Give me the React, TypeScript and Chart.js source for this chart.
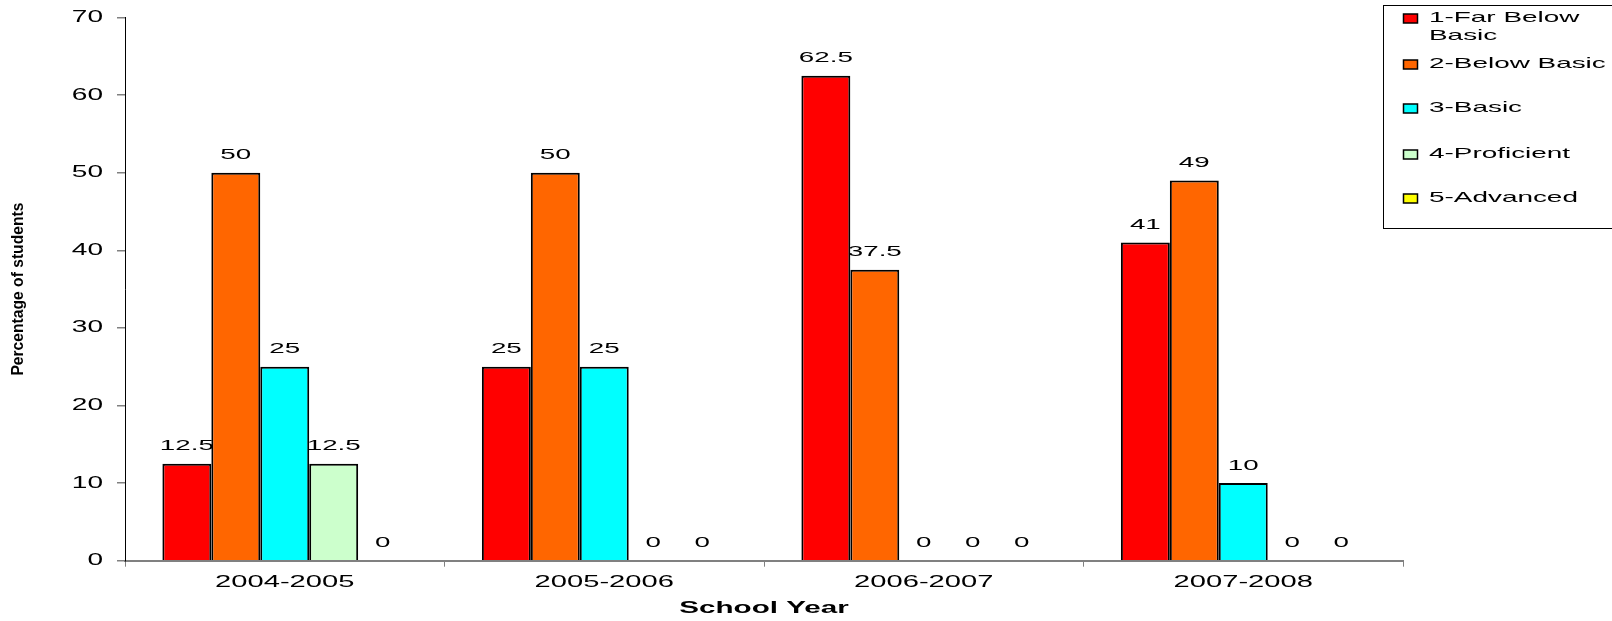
import React, { useEffect, useRef } from "react";
import { Chart, registerables } from "chart.js";

Chart.register(...registerables);

const categories = ["2004-2005", "2005-2006", "2006-2007", "2007-2008"];
const seriesNames = ["1-Far Below Basic", "2-Below Basic", "3-Basic", "4-Proficient", "5-Advanced"];
const legendLines = [["1-Far Below", "Basic"], ["2-Below Basic"], ["3-Basic"], ["4-Proficient"], ["5-Advanced"]];
const farBelowBasic = [12.5, 25, 62.5, 41];
const belowBasic = [50, 50, 37.5, 49];
const basic = [25, 25, 0, 10];
const proficient = [12.5, 0, 0, 0];
const advanced = [0, 0, 0, 0];
const seriesColors = ["#FF0000", "#FF6600", "#00FFFF", "#CCFFCC", "#FFFF00"];
const yTicks = [0, 10, 20, 30, 40, 50, 60, 70];
const xTitle = "School Year";
const yTitle = "Percentage of students";

const FONT = '"Liberation Sans", Arial, sans-serif';

function drawText(ctx: CanvasRenderingContext2D, text: string, x: number, y: number, font: string, align: string, sx: number, color = "#000") {
  ctx.save();
  ctx.font = font;
  ctx.fillStyle = color;
  ctx.textBaseline = "middle";
  ctx.textAlign = "left";
  const w = ctx.measureText(text).width * sx;
  const left = align === "center" ? x - w / 2 : align === "right" ? x - w : x;
  ctx.translate(left, y);
  ctx.scale(sx, 1);
  ctx.fillText(text, 0, 0);
  ctx.restore();
}

const textPlugin = {
  id: "customText",
  afterDraw(chart: any) {
    const ctx = chart.ctx as CanvasRenderingContext2D;
    const xs = chart.scales.x;
    const ys = chart.scales.y;
    const area = chart.chartArea;
    // y tick labels
    yTicks.forEach((v) => {
      drawText(ctx, String(v), area.left - 22, ys.getPixelForValue(v), `16px ${FONT}`, "right", 1.75);
    });
    // x tick labels
    categories.forEach((c, i) => {
      drawText(ctx, c, xs.getPixelForValue(i), area.bottom + 22, `16px ${FONT}`, "center", 1.82);
    });
    // axis titles
    drawText(ctx, xTitle, (area.left + area.right) / 2, area.bottom + 48, `bold 16px ${FONT}`, "center", 1.85);
    ctx.save();
    ctx.translate(18.5, (area.top + area.bottom) / 2);
    ctx.rotate(-Math.PI / 2);
    ctx.scale(1, 0.8);
    ctx.font = `bold 20px ${FONT}`;
    ctx.fillStyle = "#000";
    ctx.textAlign = "center";
    ctx.textBaseline = "middle";
    ctx.fillText(yTitle, 0, 0, 173);
    ctx.restore();
    // data labels
    chart.data.datasets.forEach((ds: any, di: number) => {
      const meta = chart.getDatasetMeta(di);
      meta.data.forEach((bar: any, i: number) => {
        const v = ds.data[i];
        drawText(ctx, String(v), bar.x, bar.y - 17.5, `15px ${FONT}`, "center", 1.85);
      });
    });
    // legend
    const lx = 1383;
    ctx.save();
    ctx.strokeStyle = "#000";
    ctx.lineWidth = 1;
    ctx.fillStyle = "#fff";
    ctx.fillRect(lx + 0.5, 5.5, 300, 223);
    ctx.strokeRect(lx + 0.5, 5.5, 300, 223);
    ctx.restore();
    const rowY = [18, 64, 108, 154, 198];
    legendLines.forEach((lines, i) => {
      ctx.save();
      ctx.fillStyle = seriesColors[i];
      ctx.strokeStyle = "#000";
      ctx.lineWidth = 1.5;
      ctx.fillRect(1403.5, rowY[i] - 4, 14, 9);
      ctx.strokeRect(1403.5, rowY[i] - 4, 14, 9);
      ctx.restore();
      lines.forEach((ln, k) => {
        drawText(ctx, ln, 1429, rowY[i] + k * 18, `15px ${FONT}`, "left", 1.86);
      });
    });
  },
};

export default function App() {
  const ref = useRef<HTMLCanvasElement>(null);
  useEffect(() => {
    if (!ref.current) return;
    const values = [farBelowBasic, belowBasic, basic, proficient, advanced];
    const chart = new Chart(ref.current, {
      type: "bar",
      data: {
        labels: categories,
        datasets: seriesNames.map((n, i) => ({
          label: n,
          data: values[i],
          backgroundColor: seriesColors[i],
          borderColor: "#000",
          borderWidth: (c: any) => (c.raw === 0 ? 0 : 2),
          categoryPercentage: 0.766,
          barPercentage: 1,
        })),
      },
      options: {
        animation: false,
        responsive: true,
        maintainAspectRatio: false,
        layout: { padding: { left: 0, right: 209, top: 17.5, bottom: 0 } },
        plugins: { legend: { display: false }, tooltip: { enabled: false }, title: { display: false } },
        scales: {
          x: {
            type: "category",
            offset: true,
            grid: { offset: true, drawOnChartArea: false, drawTicks: true, tickLength: 6, color: "#808080", lineWidth: 1 },
            border: { color: "#808080", width: 2 },
            ticks: { display: false },
            afterFit: (s: any) => { s.height = 60.3; },
          },
          y: {
            min: 0,
            max: 70,
            ticks: { display: false, stepSize: 10 },
            grid: { drawOnChartArea: false, drawTicks: true, tickLength: 8, color: "#808080", lineWidth: 1.5 },
            border: { color: "#000", width: 1 },
            afterFit: (s: any) => { s.width = 125; },
          },
        },
      },
      plugins: [textPlugin],
    });
    return () => chart.destroy();
  }, []);
  return (
    <div style={{ position: "absolute", left: 0, top: 0, width: 1612, height: 621, background: "#fff" }}>
      <canvas ref={ref} />
    </div>
  );
}
